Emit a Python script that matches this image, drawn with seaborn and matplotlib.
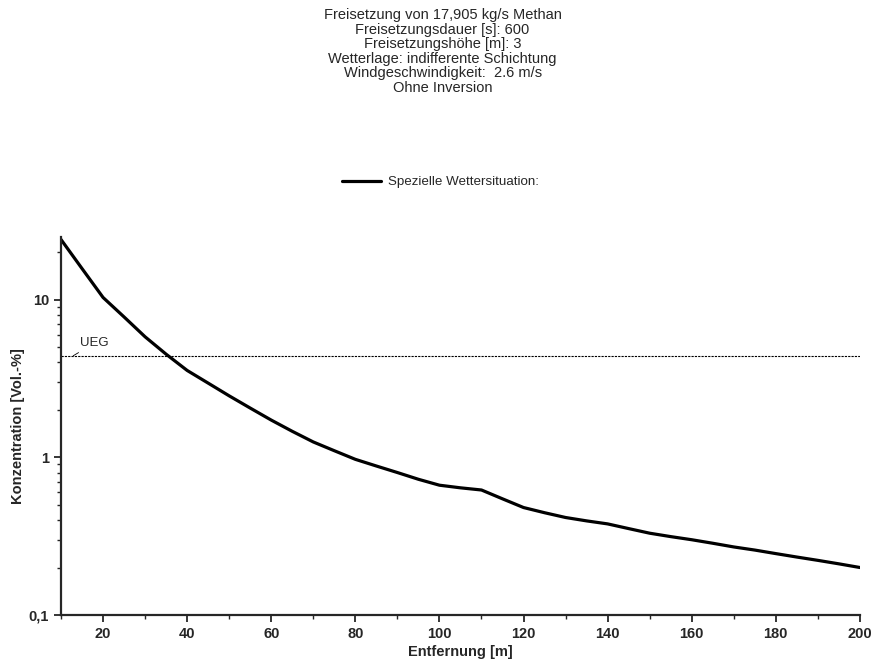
import matplotlib
matplotlib.use('Agg')
import matplotlib.pyplot as plt
import matplotlib.ticker as mticker
import seaborn as sns
import pandas as pd

# distance [m] and concentration [Vol.-%]
entfernung = [10, 15, 20, 25, 30, 35, 40, 45, 50, 55, 60, 65, 70, 75, 80, 85, 90, 95, 100,
              105, 110, 115, 120, 125, 130, 135, 140, 145, 150, 155, 160, 165, 170, 175, 180,
              185, 190, 195, 200]
konzentration = [24.0, 15.7, 10.3, 7.75, 5.8, 4.5, 3.55, 2.95, 2.45, 2.05, 1.72, 1.46, 1.25,
                 1.10, 0.97, 0.88, 0.80, 0.725, 0.665, 0.64, 0.62, 0.545, 0.48, 0.445, 0.415,
                 0.395, 0.378, 0.353, 0.33, 0.314, 0.30, 0.285, 0.27, 0.258, 0.245, 0.233,
                 0.222, 0.211, 0.20]
ueg = 4.4
serie = 'Spezielle Wettersituation:'
titel = ['Freisetzung von 17,905 kg/s Methan',
         'Freisetzungsdauer [s]: 600',
         'Freisetzungshöhe [m]: 3',
         'Wetterlage: indifferente Schichtung',
         'Windgeschwindigkeit:  2.6 m/s',
         'Ohne Inversion']

df = pd.DataFrame({'Entfernung': entfernung, 'Konzentration': konzentration, 'Serie': serie})

sns.set_style('ticks')
plt.rcParams['font.family'] = ['Liberation Sans', 'DejaVu Sans']
narrow = ['Liberation Sans Narrow', 'Liberation Sans', 'DejaVu Sans']

fig = plt.figure(figsize=(8.73, 6.65), dpi=100)
ax = fig.add_axes([0.0699, 0.0752, 0.9151, 0.5688])

sns.lineplot(data=df, x='Entfernung', y='Konzentration', hue='Serie', palette=['black'],
             linewidth=2.3, ax=ax)
ax.axhline(ueg, color='black', linewidth=0.8, linestyle=(0, (2, 1)))
ax.annotate('UEG', xy=(12.9, ueg), xytext=(14.5, 5.05), fontsize=9.5,
            arrowprops=dict(arrowstyle='-', color='black', lw=0.6, shrinkA=0, shrinkB=0))

ax.set_yscale('log')
ax.set_xlim(10, 200)
ax.set_ylim(0.1, 25)
ax.xaxis.set_minor_locator(mticker.MultipleLocator(10))
ax.set_xticks([20, 40, 60, 80, 100, 120, 140, 160, 180, 200])
ax.set_yticks([0.1, 1, 10])
ax.set_yticklabels(['0,1', '1', '10'])
ax.yaxis.set_minor_locator(mticker.LogLocator(base=10, subs=range(2, 10)))
ax.yaxis.set_minor_formatter(mticker.NullFormatter())
ax.tick_params(axis='both', which='major', length=5, width=1.3, direction='out')
ax.tick_params(axis='both', which='minor', length=3, width=1.0, direction='out')
for lab in ax.get_xticklabels() + ax.get_yticklabels():
    lab.set_family(narrow)
    lab.set_fontweight('bold')
    lab.set_fontsize(10.5)

ax.set_xlabel('Entfernung [m]', family=narrow, fontweight='bold', fontsize=10.5, labelpad=3)
ax.set_ylabel('Konzentration [Vol.-%]', family=narrow, fontweight='bold', fontsize=10.5, labelpad=3)
sns.despine(ax=ax)
for s in ['left', 'bottom']:
    ax.spines[s].set_linewidth(1.6)

fig.text(0.507, 0.988, '\n'.join(titel), ha='center', va='top', fontsize=10.5, linespacing=1.05)

leg = ax.legend(loc='center', bbox_to_anchor=(0.505, 0.726), bbox_transform=fig.transFigure,
                frameon=False, fontsize=9.6, handlelength=2.9, handletextpad=0.55)
for h in leg.get_lines():
    h.set_linewidth(2.3)

fig.savefig('out.png', dpi=100)
